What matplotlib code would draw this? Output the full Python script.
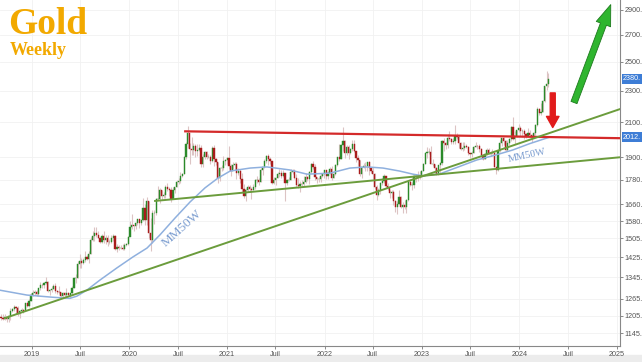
import numpy as np
import pandas as pd
import matplotlib
matplotlib.use('Agg')
import matplotlib.pyplot as plt
import matplotlib.dates as mdates
import matplotlib.transforms as mtransforms
from matplotlib.patches import FancyArrowPatch, Rectangle
from matplotlib.ticker import FixedLocator, NullLocator

# weekly closes (Friday)
close_2018 = [1198, 1194, 1199, 1192, 1203, 1222, 1228, 1235, 1233, 1209, 1222, 1223, 1222, 1248, 1238, 1257, 1280]
close_2019 = [1285, 1288, 1282, 1303, 1317, 1315, 1322, 1328, 1294, 1298, 1302, 1313, 1292, 1291, 1290, 1276, 1286, 1280,
              1286, 1277, 1284, 1305, 1341, 1341, 1399, 1409, 1400, 1415, 1426, 1419, 1440, 1497, 1513, 1527, 1520, 1507,
              1488, 1516, 1497, 1505, 1489, 1490, 1505, 1514, 1459, 1468, 1462, 1464, 1460, 1476, 1478, 1510]
close_2020 = [1552, 1562, 1557, 1571, 1589, 1570, 1584, 1643, 1585, 1674, 1529, 1498, 1617, 1620, 1683, 1683, 1727, 1700,
              1702, 1743, 1735, 1730, 1685, 1730, 1743, 1771, 1774, 1799, 1810, 1902, 1975, 2035, 1944, 1940, 1964, 1934,
              1940, 1950, 1862, 1900, 1930, 1899, 1902, 1879, 1951, 1888, 1872, 1788, 1839, 1839, 1881, 1883]
close_2021 = [1895, 1850, 1828, 1856, 1863, 1814, 1824, 1784, 1734, 1700, 1727, 1745, 1733, 1729, 1744, 1777, 1777, 1769,
              1832, 1844, 1881, 1905, 1892, 1877, 1764, 1781, 1787, 1808, 1815, 1802, 1814, 1763, 1780, 1781, 1818, 1828,
              1788, 1754, 1750, 1761, 1757, 1768, 1793, 1783, 1818, 1864, 1846, 1792, 1783, 1783, 1798, 1811, 1829]
close_2022 = [1797, 1817, 1835, 1791, 1808, 1859, 1898, 1889, 1966, 1988, 1921, 1958, 1925, 1945, 1975, 1931, 1897, 1883,
              1811, 1846, 1853, 1850, 1871, 1840, 1827, 1811, 1742, 1703, 1727, 1766, 1775, 1802, 1747, 1738, 1712, 1717,
              1675, 1644, 1661, 1695, 1644, 1657, 1645, 1681, 1771, 1751, 1755, 1797, 1797, 1793, 1798, 1824]
close_2023 = [1865, 1920, 1926, 1928, 1865, 1865, 1842, 1811, 1856, 1868, 1989, 1978, 1969, 2007, 2004, 1983, 1990, 2017,
              2011, 1977, 1946, 1948, 1961, 1958, 1921, 1919, 1925, 1955, 1962, 1959, 1943, 1914, 1889, 1915, 1940, 1919,
              1924, 1925, 1848, 1833, 1933, 1981, 2006, 1992, 1940, 1981, 2002, 2072, 2004, 2019, 2053, 2063]
close_2024 = [2045, 2049, 2029, 2018, 2039, 2024, 2013, 2036, 2083, 2179, 2156, 2165, 2230, 2330, 2344, 2381]

high_2018 = [1212, 1211, 1212, 1204, 1208, 1233, 1233, 1243, 1237, 1237, 1225, 1230, 1229, 1250, 1253, 1262, 1285]
high_2019 = [1298, 1298, 1298, 1304, 1326, 1320, 1327, 1346, 1330, 1300, 1311, 1320, 1324, 1296, 1310, 1291, 1290, 1289,
             1304, 1290, 1287, 1311, 1347, 1358, 1411, 1439, 1420, 1420, 1452, 1434, 1451, 1510, 1535, 1555, 1554, 1535,
             1509, 1524, 1535, 1519, 1517, 1501, 1518, 1521, 1517, 1478, 1474, 1475, 1480, 1483, 1485, 1514]
high_2020 = [1580, 1611, 1565, 1575, 1590, 1591, 1585, 1689, 1660, 1692, 1677, 1597, 1632, 1634, 1691, 1748, 1738, 1728,
             1717, 1752, 1765, 1745, 1744, 1745, 1745, 1780, 1789, 1818, 1815, 1904, 1984, 2075, 1981, 2015, 1977, 1973,
             1975, 1973, 1967, 1917, 1933, 1933, 1917, 1911, 1960, 1966, 1897, 1875, 1848, 1856, 1906, 1887]
high_2021 = [1900, 1959, 1863, 1875, 1875, 1875, 1843, 1834, 1816, 1760, 1740, 1755, 1756, 1745, 1758, 1785, 1797, 1790,
             1843, 1845, 1890, 1913, 1916, 1903, 1878, 1795, 1795, 1818, 1834, 1832, 1832, 1815, 1782, 1795, 1834, 1834,
             1836, 1808, 1788, 1774, 1781, 1800, 1814, 1801, 1823, 1869, 1877, 1860, 1792, 1793, 1813, 1815, 1831]
high_2022 = [1831, 1828, 1848, 1853, 1813, 1865, 1902, 1974, 1970, 2070, 1997, 1966, 1966, 1948, 1998, 1998, 1920, 1910,
             1884, 1849, 1870, 1875, 1875, 1879, 1846, 1845, 1813, 1752, 1739, 1767, 1788, 1808, 1802, 1765, 1728, 1728,
             1729, 1681, 1675, 1730, 1700, 1670, 1681, 1684, 1774, 1786, 1769, 1805, 1810, 1824, 1823, 1833]
high_2023 = [1869, 1922, 1955, 1949, 1960, 1890, 1865, 1846, 1858, 1871, 1993, 2009, 1985, 2032, 2048, 2005, 2009, 2081,
             2035, 2022, 1985, 1983, 1984, 1971, 1960, 1925, 1935, 1959, 1987, 1969, 1970, 1950, 1916, 1921, 1950, 1953,
             1933, 1947, 1935, 1843, 1937, 1997, 2009, 2010, 1993, 1994, 2008, 2075, 2135, 2047, 2055, 2088]
high_2024 = [2078, 2062, 2062, 2036, 2065, 2051, 2032, 2041, 2088, 2195, 2185, 2222, 2236, 2331, 2431, 2418]

low_2018 = [1191, 1189, 1190, 1183, 1182, 1190, 1217, 1221, 1211, 1205, 1197, 1219, 1214, 1220, 1235, 1236, 1256]
low_2019 = [1274, 1279, 1276, 1276, 1298, 1306, 1303, 1319, 1288, 1280, 1290, 1300, 1286, 1281, 1281, 1266, 1266, 1268,
            1270, 1273, 1269, 1281, 1305, 1324, 1341, 1383, 1382, 1398, 1405, 1412, 1400, 1437, 1493, 1492, 1510, 1505,
            1484, 1486, 1485, 1478, 1473, 1480, 1483, 1492, 1456, 1445, 1455, 1457, 1456, 1455, 1472, 1477]
low_2020 = [1516, 1547, 1535, 1546, 1563, 1548, 1562, 1583, 1562, 1564, 1505, 1451, 1484, 1568, 1609, 1680, 1666, 1680,
            1688, 1689, 1725, 1697, 1670, 1683, 1712, 1744, 1758, 1762, 1795, 1811, 1890, 1953, 1863, 1911, 1910, 1902,
            1906, 1933, 1848, 1848, 1889, 1890, 1893, 1860, 1875, 1850, 1856, 1764, 1775, 1823, 1830, 1858]
low_2021 = [1862, 1834, 1802, 1835, 1829, 1785, 1807, 1764, 1717, 1687, 1677, 1720, 1721, 1685, 1727, 1735, 1763, 1756,
            1769, 1806, 1843, 1870, 1856, 1863, 1761, 1760, 1751, 1788, 1794, 1791, 1796, 1677, 1753, 1773, 1778, 1810,
            1782, 1742, 1737, 1721, 1746, 1748, 1766, 1775, 1758, 1813, 1835, 1778, 1762, 1769, 1771, 1795, 1790]
low_2022 = [1783, 1782, 1812, 1780, 1788, 1804, 1852, 1878, 1889, 1932, 1895, 1910, 1890, 1915, 1935, 1930, 1872, 1850,
            1797, 1787, 1842, 1828, 1825, 1805, 1816, 1784, 1732, 1681, 1698, 1711, 1754, 1765, 1745, 1727, 1688, 1691,
            1654, 1621, 1615, 1659, 1641, 1617, 1638, 1617, 1676, 1749, 1727, 1740, 1768, 1773, 1783, 1795]
low_2023 = [1824, 1865, 1896, 1917, 1861, 1853, 1818, 1804, 1804, 1810, 1858, 1935, 1942, 1949, 1992, 1970, 1975, 1975,
            2001, 1952, 1940, 1932, 1939, 1953, 1910, 1893, 1902, 1920, 1954, 1943, 1928, 1912, 1884, 1889, 1913, 1917,
            1906, 1917, 1846, 1810, 1823, 1930, 1964, 1968, 1936, 1931, 1965, 1992, 1993, 1973, 2015, 2040]
low_2024 = [2016, 2013, 2002, 2006, 2016, 2013, 1984, 2013, 2024, 2077, 2146, 2146, 2162, 2228, 2303, 2325]

first_open = 1200

# 50 week moving average
ma_dates = ['2018-09-03', '2018-12-13', '2019-03-20', '2019-05-23', '2019-06-18', '2019-07-25', '2019-09-12',
            '2019-11-14', '2020-01-14', '2020-03-07', '2020-04-24', '2020-06-20', '2020-08-15', '2020-10-10',
            '2020-11-28', '2021-01-12', '2021-03-28', '2021-05-30', '2021-08-24', '2021-10-27', '2022-01-21',
            '2022-04-06', '2022-06-09', '2022-08-08', '2022-10-10', '2022-11-28', '2023-01-05', '2023-03-08',
            '2023-05-23', '2023-07-25', '2023-10-01', '2023-12-07', '2024-02-09', '2024-04-19']
ma_vals = [1296, 1278, 1270, 1266, 1274, 1296, 1334, 1381, 1426, 1463, 1519, 1595, 1670, 1739, 1789, 1825, 1841,
           1847, 1831, 1809, 1814, 1841, 1847, 1841, 1825, 1809, 1800, 1810, 1850, 1884, 1910, 1939, 1975, 2010]

# drawn lines
resist_dates = ['2020-07-28', '2025-01-12']
resist_vals = [2046, 2006]
trend_dates = ['2018-09-21', '2025-01-12']
trend_vals = [1196, 2181]
support_dates = ['2020-04-06', '2025-01-12']
support_vals = [1675, 1899]

yticks = [1145, 1205, 1265, 1345, 1425, 1505, 1580, 1660, 1780, 1900, 2100, 2300, 2500, 2700, 2900]
xtick_dates = ['2019-01-01', '2019-07-01', '2020-01-01', '2020-07-01', '2021-01-01', '2021-07-01', '2022-01-01',
               '2022-07-01', '2023-01-01', '2023-07-01', '2024-01-01', '2024-07-01', '2025-01-01']
xtick_labels = ['2019', 'Juil', '2020', 'Juil', '2021', 'Juil', '2022', 'Juil', '2023', 'Juil', '2024', 'Juil', '2025']

closes = np.array(close_2018 + close_2019 + close_2020 + close_2021 + close_2022 + close_2023 + close_2024, float)
highs = np.array(high_2018 + high_2019 + high_2020 + high_2021 + high_2022 + high_2023 + high_2024, float)
lows = np.array(low_2018 + low_2019 + low_2020 + low_2021 + low_2022 + low_2023 + low_2024, float)
opens = np.r_[first_open, closes[:-1]]
weeks = pd.date_range('2018-09-07', periods=len(closes), freq='W-FRI')
wx = mdates.date2num(weeks)

fig = plt.figure(figsize=(6.42, 3.62), dpi=100)
ax = fig.add_axes([0, 16 / 362, 620 / 642, 346 / 362])
ax.set_yscale('log')

up = closes >= opens
green = '#2a8a2a'
red = '#a81c1c'
ax.vlines(wx, lows, highs, color='#dcc4c4', lw=0.8, zorder=2)
ax.bar(wx[up], closes[up] - opens[up], bottom=opens[up], width=4.5, color=green, edgecolor=green, lw=0.3, zorder=3)
ax.bar(wx[~up], opens[~up] - closes[~up], bottom=closes[~up], width=4.5, color=red, edgecolor=red, lw=0.3, zorder=3)

ax.plot(pd.to_datetime(ma_dates), ma_vals, color='#8fb0de', lw=1.1, zorder=4)
ax.plot(pd.to_datetime(resist_dates), resist_vals, color='#d42a2a', lw=1.6, zorder=5)
ax.plot(pd.to_datetime(trend_dates), trend_vals, color='#6b9c3c', lw=1.4, zorder=5)
ax.plot(pd.to_datetime(support_dates), support_vals, color='#6b9c3c', lw=1.4, zorder=5)

ax.text(pd.Timestamp('2020-07-16'), 1549, 'MM50W', rotation=42, color='#7b9dd0', fontsize=9.5,
        family='Liberation Serif', ha='center', va='center', zorder=6)
ax.text(pd.Timestamp('2024-01-29'), 1906, 'MM50W', rotation=12, color='#7b9dd0', fontsize=7.5,
        family='Liberation Serif', ha='center', va='center', zorder=6)

# arrows
d = mdates.date2num(pd.Timestamp('2024-05-05'))
ax.add_patch(FancyArrowPatch((d, 2303), (d, 2052), arrowstyle='simple,head_length=8,head_width=9,tail_width=3.6',
                             mutation_scale=1, color='#e11b1b', zorder=7))
ax.add_patch(FancyArrowPatch((mdates.date2num(pd.Timestamp('2024-07-20')), 2206),
                             (mdates.date2num(pd.Timestamp('2024-12-12')), 2967),
                             arrowstyle='simple,head_length=15,head_width=11,tail_width=4.6',
                             mutation_scale=1, facecolor='#2fb52f', edgecolor='#1d7a1d', lw=0.6, zorder=7))

ax.set_xlim(mdates.date2num(pd.Timestamp('2018-09-03')), mdates.date2num(pd.Timestamp('2025-01-12')))
ax.set_ylim(1104, 2984)

ax.xaxis.set_major_locator(FixedLocator(mdates.date2num(pd.to_datetime(xtick_dates))))
ax.set_xticklabels(xtick_labels, family='Liberation Sans')
ax.yaxis.tick_right()
ax.yaxis.set_major_locator(FixedLocator(yticks))
ax.yaxis.set_minor_locator(NullLocator())
ax.set_yticklabels([f'{v}.' for v in yticks], family='Liberation Sans')
ax.tick_params(axis='both', colors='#777777', labelcolor='#555555', labelsize=5.2, length=2.5, width=0.6, pad=1)
ax.grid(color='#f1f1f1', lw=0.6, zorder=0)
for s in ['top', 'left']:
    ax.spines[s].set_visible(False)
for s in ['right', 'bottom']:
    ax.spines[s].set_color('#888888')
    ax.spines[s].set_linewidth(0.8)

tr = mtransforms.blended_transform_factory(ax.transAxes, ax.transData)
for v in [2380, 2012]:
    ax.text(1.005, v, f'{v}.', transform=tr, color='white', fontsize=5.2, va='center', ha='left',
            family='Liberation Sans', bbox=dict(facecolor='#3d7dd6', edgecolor='none', pad=1.0),
            zorder=8, clip_on=False)

fig.text(0.012, 0.905, 'Gold', color='#f2a900', fontsize=27, fontweight='bold', family='Liberation Serif')
fig.text(0.015, 0.848, 'Weekly', color='#f2a900', fontsize=13, fontweight='bold', family='Liberation Serif')

fig.patches.append(Rectangle((0, 0), 1, 7 / 362, transform=fig.transFigure, color='#ececec', zorder=-1))

fig.savefig('out.png', dpi=100)
